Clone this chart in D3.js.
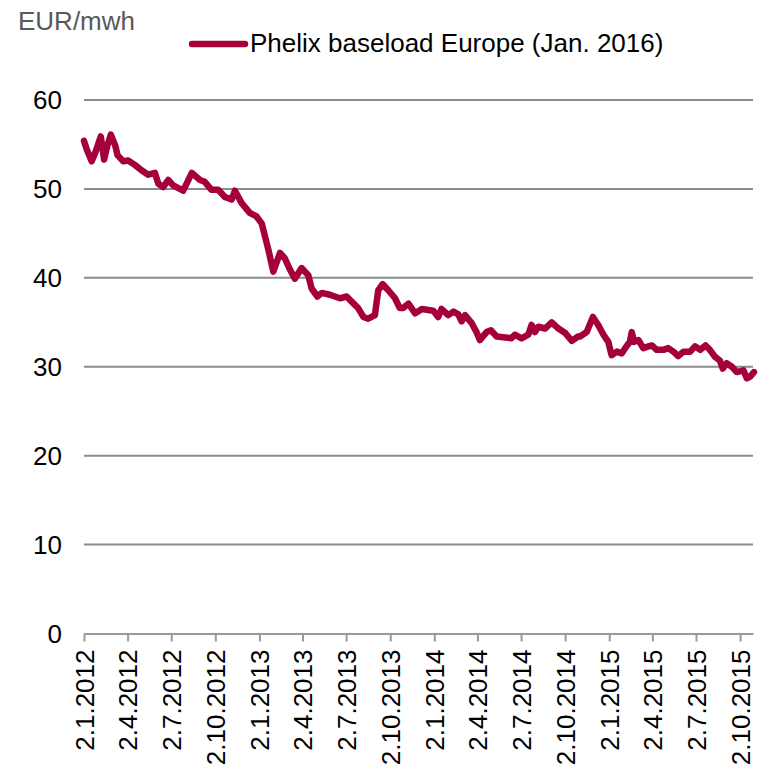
<!DOCTYPE html>
<html>
<head>
<meta charset="utf-8">
<script src="https://cdn.jsdelivr.net/npm/d3@7"></script>
<style>
  html, body { margin: 0; padding: 0; background: #fff; }
  svg { display: block; font-family: Arial, "Liberation Sans", sans-serif; }
</style>
</head>
<body>
<svg id="chart" width="765" height="770"></svg>
<script>
// Phelix baseload futures, Jan. 2016 delivery (EUR/MWh)
const dates = [
  "2012-01-02","2012-01-08","2012-01-18","2012-01-25","2012-02-06","2012-02-13","2012-02-20","2012-02-27",
  "2012-03-07","2012-03-12","2012-03-24","2012-04-03","2012-04-17","2012-05-01","2012-05-15","2012-05-29",
  "2012-06-05","2012-06-15","2012-06-26","2012-07-06","2012-07-27","2012-08-14","2012-08-31","2012-09-10",
  "2012-09-24","2012-10-08","2012-10-22","2012-11-05","2012-11-12","2012-11-26","2012-12-13","2012-12-27",
  "2013-01-07","2013-01-14","2013-01-21","2013-01-31","2013-02-14","2013-02-24","2013-03-07","2013-03-17",
  "2013-03-31","2013-04-14","2013-04-21","2013-05-03","2013-05-12","2013-05-29","2013-06-19","2013-07-03",
  "2013-07-14","2013-07-27","2013-08-07","2013-08-17","2013-08-31","2013-09-07","2013-09-16","2013-09-28",
  "2013-10-12","2013-10-22","2013-10-29","2013-11-09","2013-11-23","2013-12-07","2013-12-31","2014-01-10",
  "2014-01-17","2014-01-31","2014-02-11","2014-02-21","2014-02-28","2014-03-07","2014-03-21","2014-03-31",
  "2014-04-07","2014-04-21","2014-04-30","2014-05-12","2014-05-30","2014-06-12","2014-06-19","2014-07-03",
  "2014-07-17","2014-07-24","2014-07-31","2014-08-07","2014-08-21","2014-09-04","2014-09-18","2014-10-02",
  "2014-10-16","2014-10-29","2014-11-02","2014-11-16","2014-11-29","2014-12-10","2014-12-21","2014-12-31",
  "2015-01-07","2015-01-18","2015-01-28","2015-02-07","2015-02-14","2015-02-18","2015-02-23","2015-03-04",
  "2015-03-14","2015-03-25","2015-04-01","2015-04-11","2015-04-25","2015-05-05","2015-05-16","2015-05-26",
  "2015-06-06","2015-06-20","2015-06-30","2015-07-11","2015-07-22","2015-07-31","2015-08-11","2015-08-21",
  "2015-08-27","2015-09-04","2015-09-15","2015-09-25","2015-10-09","2015-10-16","2015-10-23","2015-10-31"
];
const prices = [
  55.4, 54.4, 53.1, 54.0, 55.9, 53.3, 54.9, 56.1,
  54.9, 53.8, 53.1, 53.2, 52.7, 52.1, 51.6, 51.8,
  50.6, 50.2, 51.0, 50.4, 49.8, 51.8, 51.0, 50.8,
  49.9, 49.9, 49.1, 48.8, 49.8, 48.4, 47.3, 46.9,
  46.1, 44.6, 43.1, 40.7, 42.8, 42.2, 40.9, 39.9,
  41.1, 40.3, 38.8, 37.9, 38.3, 38.1, 37.7, 37.9,
  37.3, 36.6, 35.6, 35.4, 35.8, 38.6, 39.3, 38.6,
  37.7, 36.6, 36.6, 37.1, 36.0, 36.5, 36.3, 35.6,
  36.5, 35.8, 36.2, 35.9, 35.1, 35.8, 34.9, 33.9,
  33.0, 33.9, 34.1, 33.4, 33.3, 33.2, 33.6, 33.2,
  33.6, 34.7, 33.9, 34.5, 34.3, 35.0, 34.3, 33.8,
  32.9, 33.4, 33.4, 33.9, 35.6, 34.7, 33.6, 32.8,
  31.3, 31.7, 31.5, 32.3, 32.8, 33.9, 32.8, 33.0,
  32.1, 32.3, 32.4, 31.9, 31.9, 32.1, 31.7, 31.2,
  31.7, 31.7, 32.3, 31.9, 32.4, 31.9, 31.1, 30.7,
  29.8, 30.4, 30.0, 29.4, 29.6, 28.7, 28.9, 29.4
];
const xTickDates = [
  "2012-01-02","2012-04-02","2012-07-02","2012-10-02",
  "2013-01-02","2013-04-02","2013-07-02","2013-10-02",
  "2014-01-02","2014-04-02","2014-07-02","2014-10-02",
  "2015-01-02","2015-04-02","2015-07-02","2015-10-02"
];
const yTicks = [0, 10, 20, 30, 40, 50, 60];
const unitLabel = "EUR/mwh";
const seriesName = "Phelix baseload Europe (Jan. 2016)";

const parse = d3.timeParse("%Y-%m-%d");
const fmtTick = d3.timeFormat("%-d.%-m.%Y");
const data = dates.map((d, i) => ({ date: parse(d), value: prices[i] }));

const lineColor = "#a5003c";
const gridColor = "#8c8c8c";
const svg = d3.select("#chart");

const plotLeft = 84, plotRight = 753, plotTop = 100, plotBottom = 633.5;

const x = d3.scaleTime()
  .domain([parse("2012-01-02"), parse("2015-10-29")])
  .range([plotLeft, plotRight]);
const y = d3.scaleLinear().domain([0, 60]).range([plotBottom, plotTop]);

// horizontal gridlines
svg.append("g")
  .selectAll("line")
  .data(yTicks.filter(v => v > 0))
  .join("line")
  .attr("x1", plotLeft).attr("x2", plotRight)
  .attr("y1", d => y(d)).attr("y2", d => y(d))
  .attr("stroke", gridColor).attr("stroke-width", 2);

// y tick labels
svg.append("g")
  .selectAll("text")
  .data(yTicks)
  .join("text")
  .attr("x", 62)
  .attr("y", d => y(d))
  .attr("dy", "0.35em")
  .attr("text-anchor", "end")
  .attr("font-size", 26)
  .attr("fill", "#000")
  .text(d => d);

// x axis
const xAxis = d3.axisBottom(x)
  .tickValues(xTickDates.map(parse))
  .tickFormat(fmtTick)
  .tickSize(8)
  .tickSizeOuter(0);

const gx = svg.append("g")
  .attr("transform", `translate(0,${plotBottom})`)
  .call(xAxis);
gx.select(".domain").attr("stroke", "#999").attr("stroke-width", 2);
gx.selectAll(".tick line").attr("stroke", "#999").attr("stroke-width", 2);
gx.selectAll(".tick text")
  .attr("font-size", 26)
  .attr("font-family", "Arial, 'Liberation Sans', sans-serif")
  .attr("fill", "#000")
  .attr("text-anchor", "end")
  .attr("transform", "rotate(-90)")
  .attr("x", -16)
  .attr("y", 0)
  .attr("dy", "0.36em");

// price line
svg.append("path")
  .datum(data)
  .attr("fill", "none")
  .attr("stroke", lineColor)
  .attr("stroke-width", 6.5)
  .attr("stroke-linejoin", "round")
  .attr("stroke-linecap", "round")
  .attr("d", d3.line().x(d => x(d.date)).y(d => y(d.value)));

// unit label
svg.append("text")
  .attr("x", 18).attr("y", 30)
  .attr("font-size", 26)
  .attr("fill", "#595959")
  .text(unitLabel);

// legend
svg.append("line")
  .attr("x1", 192).attr("x2", 245)
  .attr("y1", 44).attr("y2", 44)
  .attr("stroke", lineColor)
  .attr("stroke-width", 6.5)
  .attr("stroke-linecap", "round");
svg.append("text")
  .attr("x", 250).attr("y", 52)
  .attr("font-size", 26)
  .attr("fill", "#000")
  .text(seriesName);
</script>
</body>
</html>
